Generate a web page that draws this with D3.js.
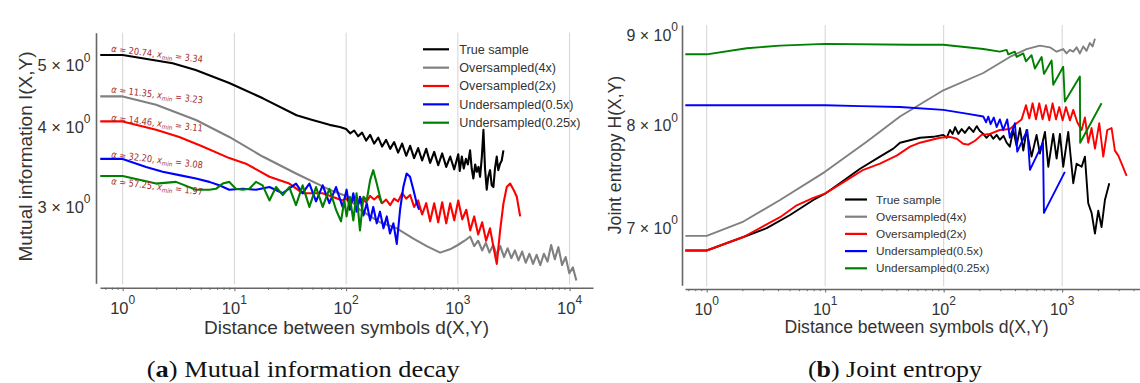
<!DOCTYPE html>
<html>
<head>
<meta charset="utf-8">
<script src="https://cdn.jsdelivr.net/npm/d3@7"></script>
<style>
  body { margin: 0; background: #fff; }
  svg { display: block; font-family: "Liberation Sans", Arial, sans-serif; }
</style>
</head>
<body>
<svg width="1140" height="383"></svg>
<script>
const seriesNames = ["True sample", "Oversampled(4x)", "Oversampled(2x)", "Undersampled(0.5x)", "Undersampled(0.25x)"]
const seriesColors = ["#000000", "#808080", "#ff0000", "#0000ff", "#008000"]

// (a) mutual information decay
const miTrueDist = [0.63, 1, 2.8, 4.5, 9, 18, 36, 50, 71, 88, 100, 108.6, 118, 128, 139, 151, 164, 178, 194, 210, 228, 248, 269, 292, 317, 345, 374, 406, 441, 479, 521, 565, 614, 667, 724, 787, 854, 928, 1008, 1040, 1085, 1130, 1180, 1230, 1286, 1330, 1377, 1430, 1476, 1530, 1581, 1640, 1694, 1750, 1813, 1870, 1942, 2010, 2080, 2150, 2228, 2300, 2387, 2470, 2557]
const miTrueVal = [5.12, 5.12, 4.97, 4.85, 4.63, 4.38, 4.12, 4.05, 3.98, 3.95, 3.92, 3.86, 3.90, 3.82, 3.87, 3.76, 3.84, 3.72, 3.80, 3.68, 3.77, 3.65, 3.74, 3.60, 3.72, 3.56, 3.69, 3.53, 3.66, 3.50, 3.65, 3.47, 3.61, 3.44, 3.59, 3.42, 3.55, 3.39, 3.58, 3.37, 3.55, 3.40, 3.52, 3.45, 3.63, 3.40, 3.28, 3.45, 3.36, 3.42, 3.30, 3.55, 3.91, 3.40, 3.15, 3.30, 3.38, 3.20, 3.18, 3.40, 3.55, 3.38, 3.46, 3.50, 3.63]

const miOver4Dist = [0.63, 1, 1.99, 4.53, 9.0, 17.9, 35.6, 70.8, 100, 133, 201, 284, 400, 526, 694, 850, 1000, 1150, 1290, 1400, 1520, 1650, 1780, 1920, 2070, 2230, 2400, 2590, 2790, 3010, 3240, 3490, 3760, 4050, 4370, 4710, 5070, 5470, 5890, 6350, 6840, 7370, 7940, 8560, 9220, 9940, 10700, 11500]
const miOver4Val = [4.41, 4.41, 4.28, 4.05, 3.81, 3.55, 3.34, 3.15, 3.08, 2.93, 2.80, 2.74, 2.64, 2.57, 2.51, 2.54, 2.58, 2.62, 2.66, 2.57, 2.62, 2.53, 2.60, 2.51, 2.58, 2.49, 2.57, 2.47, 2.55, 2.46, 2.53, 2.44, 2.52, 2.42, 2.50, 2.41, 2.49, 2.40, 2.50, 2.43, 2.58, 2.45, 2.56, 2.40, 2.47, 2.33, 2.38, 2.27]

const miOver2Dist = [0.63, 1, 1.99, 3.21, 5.2, 9.0, 12.7, 20.6, 31, 40.8, 61.7, 93, 100, 108.6, 118, 128, 139, 151, 164, 178, 194, 210, 228, 248, 269, 292, 317, 345, 374, 406, 441, 479, 521, 565, 614, 667, 724, 787, 854, 928, 1008, 1095, 1190, 1290, 1400, 1520, 1650, 1790, 1940, 2110, 2230, 2390, 2560, 2740, 2937, 3150, 3370, 3610]
const miOver2Val = [4.03, 4.03, 3.91, 3.81, 3.68, 3.53, 3.46, 3.30, 3.22, 3.11, 3.11, 3.03, 3.05, 3.00, 3.04, 2.99, 3.05, 3.01, 3.08, 3.04, 3.08, 3.00, 3.04, 2.98, 3.05, 3.02, 3.11, 3.05, 3.09, 2.96, 3.03, 2.88, 3.00, 2.81, 3.00, 2.80, 3.01, 2.79, 3.00, 2.82, 3.03, 2.83, 2.93, 2.72, 2.86, 2.68, 2.80, 2.62, 2.74, 2.53, 2.41, 2.72, 3.00, 3.18, 3.22, 3.15, 3.07, 2.86]

const miUnder05Dist = [0.63, 1, 1.62, 2.28, 3.21, 4.53, 5.96, 7.32, 9.0, 11.9, 15.6, 20.6, 27.1, 35.6, 40.8, 46.9, 53.8, 61.7, 70.8, 81.2, 93, 101, 108, 116, 124, 133, 143, 153, 164, 175, 188, 201, 216, 231, 247, 265, 284, 304, 325, 348, 373, 400, 428, 450]
const miUnder05Val = [3.52, 3.52, 3.42, 3.36, 3.32, 3.28, 3.24, 3.20, 3.15, 3.16, 3.15, 3.18, 3.11, 3.22, 3.11, 3.22, 3.02, 3.20, 3.00, 3.18, 2.96, 3.15, 2.93, 3.11, 2.91, 3.07, 2.87, 3.00, 2.82, 2.96, 2.79, 2.91, 2.74, 2.86, 2.69, 2.79, 2.59, 2.93, 3.18, 3.34, 3.30, 3.15, 3.00, 2.93]

const miUnder025Dist = [0.63, 1, 1.99, 3.0, 4.53, 5.96, 6.84, 7.86, 9.0, 10.3, 11.9, 13.6, 15.6, 17.9, 20.6, 23.6, 27.1, 31.0, 35.6, 40.8, 46.9, 53.8, 61.7, 70.8, 81.2, 90, 96.4, 101, 108, 116, 124, 133, 143, 153, 164, 175, 188, 201, 208]
const miUnder025Val = [3.31, 3.31, 3.22, 3.24, 3.15, 3.15, 3.16, 3.22, 3.24, 3.16, 3.15, 3.16, 3.24, 3.20, 3.03, 3.18, 3.09, 3.18, 2.98, 3.20, 2.96, 3.18, 2.96, 3.16, 2.93, 2.81, 3.03, 2.86, 3.07, 2.82, 3.11, 2.72, 3.07, 3.03, 3.26, 3.38, 3.22, 3.07, 3.00]

const miXTicks = [1, 10, 100, 1000, 10000]
const miYTicks = [3, 4, 5]
const fitAlpha = ["20.74", "11.35", "14.46", "32.20", "57.25"]
const fitXmin = ["3.34", "3.23", "3.11", "3.08", "1.97"]

// (b) joint entropy
const jeTrueDist = [0.66, 1, 2.04, 3.21, 5.05, 7.94, 9.96, 13.3, 19.7, 29, 37.6, 42.8, 63.1, 81.7, 99.3, 106, 113, 119, 125, 133, 142, 151, 164, 178, 190, 202, 216, 230, 246, 262, 280, 298, 320, 340, 362, 386, 413, 441, 470, 501, 552, 608, 649, 716, 764, 841, 898, 958, 1021, 1126, 1241, 1325, 1460, 1557, 1660, 1772, 1892, 2018, 2150, 2296, 2500]
const jeTrueVal = [6.78, 6.78, 6.90, 6.98, 7.10, 7.24, 7.30, 7.40, 7.54, 7.66, 7.74, 7.80, 7.85, 7.86, 7.88, 7.85, 7.93, 7.89, 7.96, 7.89, 7.94, 7.90, 7.96, 7.91, 7.97, 7.92, 7.89, 7.85, 7.89, 7.84, 7.88, 7.83, 7.87, 7.80, 7.76, 7.93, 7.77, 7.95, 7.72, 7.93, 7.66, 7.88, 7.69, 7.91, 7.56, 7.89, 7.64, 7.89, 7.56, 7.91, 7.40, 7.59, 7.56, 7.66, 7.21, 7.12, 6.93, 7.14, 6.99, 7.24, 7.40]

const jeOver4Dist = [0.66, 1, 2.04, 4.16, 9.96, 22.4, 42.8, 99.3, 216, 362, 501, 649, 788, 898, 1021, 1089, 1160, 1241, 1325, 1412, 1507, 1607, 1714, 1806, 1892]
const jeOver4Val = [6.91, 6.91, 7.04, 7.24, 7.51, 7.81, 8.07, 8.35, 8.54, 8.72, 8.81, 8.85, 8.83, 8.78, 8.81, 8.76, 8.80, 8.78, 8.83, 8.76, 8.84, 8.79, 8.88, 8.84, 8.93]

const jeOver2Dist = [0.66, 1, 2.04, 4.16, 5.75, 7.94, 9.96, 15.2, 21, 29, 40.1, 52, 63.1, 93, 113, 129, 146, 161, 184, 209, 246, 298, 362, 413, 455, 495, 528, 563, 601, 641, 684, 730, 779, 830, 887, 946, 1009, 1077, 1164, 1241, 1342, 1460, 1557, 1660, 1772, 1892, 2057, 2223, 2404, 2614, 2788, 2977, 3177, 3390, 3500]
const jeOver2Val = [6.78, 6.78, 6.90, 7.08, 7.19, 7.26, 7.30, 7.43, 7.53, 7.59, 7.67, 7.76, 7.80, 7.85, 7.86, 7.84, 7.79, 7.78, 7.82, 7.88, 7.89, 7.93, 7.94, 8.00, 8.04, 8.19, 8.05, 8.21, 8.04, 8.21, 8.04, 8.19, 8.03, 8.21, 8.04, 8.17, 8.03, 8.17, 8.03, 8.14, 8.01, 7.93, 8.06, 7.80, 7.95, 7.74, 8.00, 7.66, 7.93, 7.95, 7.72, 7.67, 7.59, 7.51, 7.47]

const jeUnder05Dist = [0.66, 1, 10, 20, 42.8, 99.3, 156, 216, 228, 238, 249, 265, 280, 298, 318, 344, 362, 399, 418, 508, 535, 689, 702, 1054]
const jeUnder05Val = [8.19, 8.19, 8.19, 8.18, 8.17, 8.14, 8.10, 8.07, 8.01, 8.07, 7.99, 8.06, 7.96, 8.04, 7.93, 8.04, 7.85, 8.00, 7.71, 7.93, 7.53, 7.80, 7.12, 7.51]

const jeUnder025Dist = [0.66, 1, 2.18, 4.16, 9.96, 52, 99.3, 216, 298, 340, 351, 399, 413, 470, 495, 552, 589, 671, 702, 815, 841, 1021, 1054, 1412, 1419, 2150]
const jeUnder025Val = [8.75, 8.75, 8.82, 8.85, 8.87, 8.86, 8.86, 8.81, 8.78, 8.80, 8.75, 8.78, 8.72, 8.76, 8.67, 8.74, 8.59, 8.72, 8.53, 8.68, 8.41, 8.61, 8.23, 8.50, 7.80, 8.21]

const jeXTicks = [1, 10, 100, 1000]
const jeYTicks = [7, 8, 9]

const svg = d3.select("svg")
const textColor = "#333"
const axisColor = "#666"

function drawPanel(cfg) {
    let x = d3.scaleLog().domain(cfg.xDomain).range(cfg.xRange)
    let y = d3.scaleLog().domain(cfg.yDomain).range(cfg.yRange)
    let g = svg.append("g")

    // vertical grid at decades
    g.selectAll("line.grid").data(cfg.xTicks).enter()
        .append("line")
        .attr("x1", d => x(d)).attr("x2", d => x(d))
        .attr("y1", cfg.yRange[1]).attr("y2", cfg.yRange[0] + 1)
        .attr("stroke", "#d4d4d4").attr("stroke-width", 1)

    // minor ticks 2..9 per decade
    let minors = []
    for (let k = -1; k <= 4; k++) {
        for (let m = 2; m <= 9; m++) {
            let v = m * Math.pow(10, k)
            if (v >= cfg.xDomain[0] && v <= cfg.xDomain[1]) minors.push(v)
        }
    }
    let xMinor = g.append("g")
        .attr("transform", "translate(0," + cfg.xAxisY + ")")
        .call(d3.axisBottom(x).tickValues(minors).tickSize(2.2).tickSizeOuter(0).tickFormat(""))
    let xMajor = g.append("g")
        .attr("transform", "translate(0," + cfg.xAxisY + ")")
        .call(d3.axisBottom(x).tickValues(cfg.xTicks).tickSize(3.5).tickSizeOuter(0).tickFormat(""))
    xMajor.select(".domain").remove()
    xMinor.select(".domain").attr("stroke", axisColor).attr("stroke-width", 1.6)
    g.selectAll(".tick line").attr("stroke", axisColor).attr("stroke-width", 1)

    let yAx = g.append("g")
        .attr("transform", "translate(" + cfg.yAxisX + ",0)")
        .call(d3.axisLeft(y).tickValues([]).tickSizeOuter(0))
    yAx.select(".domain").attr("stroke", axisColor).attr("stroke-width", 1.6)

    // x tick labels 10^k
    let xl = g.append("g").selectAll("text").data(cfg.xTicks).enter()
        .append("text")
        .attr("x", d => x(d))
        .attr("y", cfg.xAxisY + 26.3)
        .attr("text-anchor", "middle")
        .attr("fill", textColor)
        .style("font-size", cfg.tickFont + "px")
    xl.append("tspan").text("10")
    xl.append("tspan").attr("dy", -10).style("font-size", "12px")
        .text(d => Math.round(Math.log10(d)))

    // y tick labels m x 10^0
    let yl = g.append("g").selectAll("text").data(cfg.yTicks).enter()
        .append("text")
        .attr("x", cfg.yAxisX - cfg.yLabGap)
        .attr("y", d => y(d) + cfg.yLabOff)
        .attr("text-anchor", "end")
        .attr("fill", textColor)
        .style("font-size", cfg.tickFont + "px")
    yl.append("tspan").text(d => d + " \u00d7 10")
    yl.append("tspan").attr("dy", -9.5).style("font-size", "12px").text("0")

    // axis titles
    g.append("text")
        .attr("x", cfg.xTitle[0]).attr("y", cfg.xTitle[1])
        .attr("text-anchor", "middle").attr("fill", textColor)
        .style("font-size", cfg.titleFont + "px")
        .text("Distance between symbols d(X,Y)")
    g.append("text")
        .attr("transform", "translate(" + cfg.yTitle[0] + "," + cfg.yTitle[1] + ") rotate(-90)")
        .attr("text-anchor", "middle").attr("fill", textColor)
        .style("font-size", cfg.titleFont + "px")
        .text(cfg.yTitleText)

    // series
    let line = d3.line().x(d => x(d[0])).y(d => y(d[1]))
    cfg.series.forEach(function (s, i) {
        g.append("path")
            .datum(d3.zip(s[0], s[1]))
            .attr("d", line)
            .attr("fill", "none")
            .attr("stroke", seriesColors[i])
            .attr("stroke-width", cfg.lineWidth)
            .attr("stroke-linejoin", "round")
    })

    // legend
    let lg = g.append("g").selectAll("g").data(seriesNames).enter()
        .append("g")
        .attr("transform", (d, i) => "translate(" + cfg.legX + "," + (cfg.legY + i * cfg.legStep) + ")")
    lg.append("line")
        .attr("x1", 0).attr("x2", cfg.legLen)
        .attr("stroke", (d, i) => seriesColors[i])
        .attr("stroke-width", 2.2)
    lg.append("text")
        .attr("x", cfg.legText)
        .attr("dy", "0.35em")
        .attr("fill", textColor)
        .style("font-size", cfg.legFont + "px")
        .text(d => d)

    return {x: x, y: y, g: g}
}

let left = drawPanel({
    xDomain: [0.627, 16200], xRange: [100, 593],
    yDomain: [2.247, 5.55], yRange: [283.3, 32.7],
    xAxisY: 287.7, yAxisX: 96,
    xTicks: miXTicks, yTicks: miYTicks,
    tickFont: 16.5, yLabGap: 5.5, yLabOff: 9.5,
    titleFont: 19, xTitle: [346.5, 334], yTitle: [31.7, 156.5],
    yTitleText: "Mutual information I(X,Y)",
    lineWidth: 2.1,
    series: [[miTrueDist, miTrueVal], [miOver4Dist, miOver4Val], [miOver2Dist, miOver2Val],
             [miUnder05Dist, miUnder05Val], [miUnder025Dist, miUnder025Val]],
    legX: 423, legY: 49.3, legStep: 18.35, legLen: 26, legText: 36.3, legFont: 12.6
})

let right = drawPanel({
    xDomain: [0.656, 4540], xRange: [685, 1140],
    yDomain: [6.48, 9.09], yRange: [285.3, 25],
    xAxisY: 289, yAxisX: 682,
    xTicks: jeXTicks, yTicks: jeYTicks,
    tickFont: 16, yLabGap: 4, yLabOff: 8,
    titleFont: 17.6, xTitle: [916.5, 333], yTitle: [621, 155],
    yTitleText: "Joint entropy H(X,Y)",
    lineWidth: 1.9,
    series: [[jeTrueDist, jeTrueVal], [jeOver4Dist, jeOver4Val], [jeOver2Dist, jeOver2Val],
             [jeUnder05Dist, jeUnder05Val], [jeUnder025Dist, jeUnder025Val]],
    legX: 845, legY: 199.5, legStep: 17.2, legLen: 22, legText: 31, legFont: 11.8
})

// power-law fit notes on panel (a)
const annotY = [51.8, 92.5, 120.8, 157.5, 184.2]
let notes = left.g.append("g").selectAll("text").data(fitAlpha).enter()
    .append("text")
    .attr("transform", (d, i) => "translate(111," + annotY[i] + ") rotate(6.8)")
    .attr("fill", "#a52a2a")
    .attr("textLength", 92)
    .attr("lengthAdjust", "spacingAndGlyphs")
    .style("font-family", "'DejaVu Sans', sans-serif")
    .style("font-size", "9.5px")
notes.append("tspan").style("font-style", "italic").text("\u03b1")
notes.append("tspan").text(d => " = " + d + ", ")
notes.append("tspan").style("font-style", "italic").text("x")
notes.append("tspan").attr("dy", 2).style("font-size", "6.5px").style("font-style", "italic").text("min")
notes.append("tspan").attr("dy", -2).text((d, i) => " = " + fitXmin[i])

// sub-figure captions
const captions = [["a", " Mutual information decay", 303.3, 313], ["b", " Joint entropy", 895, 174]]
captions.forEach(function (c) {
    let t = svg.append("text")
        .attr("x", c[2]).attr("y", 377)
        .attr("text-anchor", "middle")
        .attr("fill", "#111")
        .attr("textLength", c[3])
        .attr("lengthAdjust", "spacingAndGlyphs")
        .style("font-family", "'Liberation Serif', 'DejaVu Serif', serif")
        .style("font-size", "24px")
    t.append("tspan").text("(")
    t.append("tspan").style("font-weight", "bold").text(c[0])
    t.append("tspan").text(")" + c[1])
})
</script>
</body>
</html>
